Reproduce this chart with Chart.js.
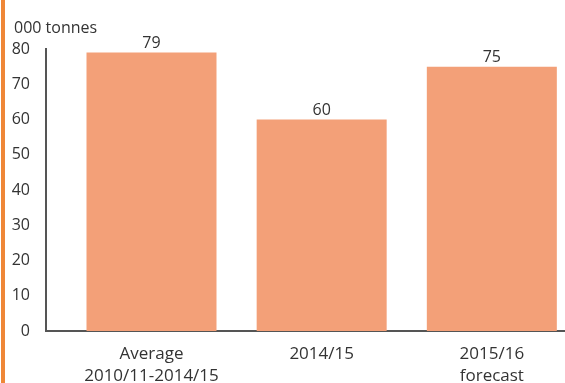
<!DOCTYPE html>
<html>
<head>
<meta charset="utf-8">
<script src="https://cdn.jsdelivr.net/npm/chart.js@4"></script>
<style>
  html, body { margin: 0; padding: 0; background: #fff; overflow: hidden; }
  #wrap { position: relative; width: 565px; height: 383px; }
  #stripe { position: absolute; left: 1px; top: 0; width: 4px; height: 383px; background: #ef8737; }
</style>
</head>
<body>
<div id="wrap">
  <canvas id="chart" width="565" height="383"></canvas>
  <div id="stripe"></div>
</div>
<script>
// categories (each one split in lines) and values, 000 tonnes
const categories = [['Average', '2010/11-2014/15'], ['2014/15'], ['2015/16', 'forecast']];
const values = [79, 60, 75];
const yTicks = [0, 10, 20, 30, 40, 50, 60, 70, 80];
const unitLabel = '000 tonnes';

const textColor = '#333333';
const fontFamily = '"Open Sans", sans-serif';

// draws the unit label and the value over each bar
const labelsPlugin = {
    id: 'labels',
    afterDatasetsDraw(chart) {
        const ctx = chart.ctx;
        ctx.save();
        ctx.fillStyle = textColor;
        ctx.font = '16px ' + fontFamily;
        ctx.textAlign = 'left';
        ctx.textBaseline = 'middle';
        ctx.fillText(unitLabel, 14, 28);

        ctx.textAlign = 'center';
        ctx.textBaseline = 'bottom';
        const meta = chart.getDatasetMeta(0);
        meta.data.forEach((bar, i) => {
            ctx.fillText(String(values[i]), bar.x, bar.y - 1);
        });
        ctx.restore();
    }
};

new Chart(document.getElementById('chart'), {
    type: 'bar',
    data: {
        datasets: [{
            data: values.map((v, i) => ({ x: i, y: v })),
            backgroundColor: '#f3a078',
            borderWidth: 0,
            categoryPercentage: 0.764,
            barPercentage: 1
        }]
    },
    options: {
        responsive: false,
        animation: false,
        layout: { padding: { top: 49, left: 0, right: 0, bottom: 0 } },
        plugins: {
            legend: { display: false },
            tooltip: { enabled: false }
        },
        scales: {
            x: {
                type: 'linear',
                offset: false,
                min: -0.62,
                max: 2.43,
                afterBuildTicks: s => { s.ticks = categories.map((c, i) => ({ value: i })); },
                afterFit: s => { s.height = 52; },
                grid: { display: false, offset: false },
                border: { display: true, color: '#555555', width: 2 },
                ticks: {
                    color: textColor,
                    font: { family: fontFamily, size: 17, lineHeight: 1.25 },
                    padding: 5,
                    maxRotation: 0,
                    autoSkip: false,
                    callback: (v) => categories[v]
                }
            },
            y: {
                min: 0,
                max: 80,
                afterBuildTicks: s => { s.ticks = yTicks.map(v => ({ value: v })); },
                afterFit: s => { s.width = 46; },
                grid: { display: false },
                border: { display: true, color: '#555555', width: 2 },
                ticks: {
                    color: textColor,
                    font: { family: fontFamily, size: 16 },
                    padding: 8
                }
            }
        }
    },
    plugins: [labelsPlugin]
});
</script>
</body>
</html>
